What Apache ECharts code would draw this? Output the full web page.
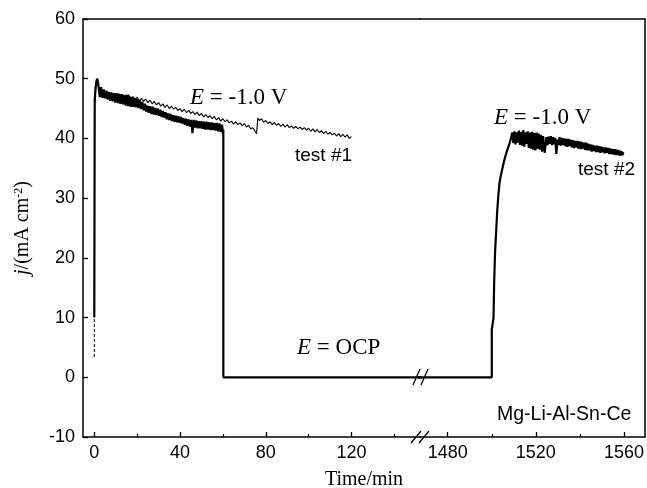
<!DOCTYPE html>
<html><head><meta charset="utf-8">
<script src="https://cdn.jsdelivr.net/npm/echarts@6/dist/echarts.min.js"></script>
<style>html,body{margin:0;padding:0;background:#fff}#c{width:647px;height:488px}</style>
</head><body><div id="c"></div>
<script>
// ---- data ----
const xTicksLeft = [0, 40, 80, 120];
const xMinorLeft = [20, 60, 100, 140];
const xTicksRight = [1480, 1520, 1560];
const xMinorRight = [1500, 1540];
const yRange = [-10, 60];

// test #1 start (dashed)
const test1Start = [[0, 3.4], [0, 10]];
// test #1 (thin trace, 0-120 min at -1.0 V)
const test1 = [[0.3,46.2],[0.7,48.6],[1.2,49.4],[1.8,48.9],[2.5,48.3],[3,47.6],[4,48.0],[5,47.4],[6,47.8],[7,47.2],[8,47.6],[9,47.0],[10,47.4],[11,46.9],[12,47.3],[13,46.8],[14,47.2],[15,46.8],[16,47.3],[17,46.7],[18,47.0],[19,46.5],[20,46.9],[21,46.3],[22,46.7],[23,46.2],[24,46.6],[25,46.0],[26,46.4],[27,45.8],[28,46.2],[29,45.6],[30,46.0],[31,45.4],[32,45.8],[33,45.2],[34,45.6],[35,45.0],[36,45.4],[37,44.9],[38,45.2],[39,44.7],[40,45.0],[41,44.5],[42,44.9],[43,44.3],[44,44.7],[45,44.2],[46,44.5],[47,44.0],[48,44.4],[49,43.8],[50,44.2],[51,43.6],[52,44.0],[53,43.5],[54,43.8],[55,43.3],[56,43.7],[57,43.1],[58,43.5],[59,42.9],[60,43.3],[61,42.8],[62,43.1],[63,42.6],[64,42.9],[65,42.4],[66,42.8],[67,42.3],[68,42.6],[69,42.1],[70,42.5],[71,41.9],[72,42.2],[73,41.6],[74,41.8],[75,41.2],[75.7,40.8],[76.3,43.4],[77,43.0],[78,43.3],[79,42.7],[80,43.0],[81,42.5],[82,42.8],[83,42.3],[84,42.7],[85,42.2],[86,42.5],[87,42.0],[88,42.4],[89,41.9],[90,42.3],[91,41.8],[92,42.1],[93,41.7],[94,42.0],[95,41.6],[96,41.9],[97,41.5],[98,41.8],[99,41.4],[100,41.7],[101,41.2],[102,41.6],[103,41.1],[104,41.5],[105,41.0],[106,41.3],[107,40.8],[108,41.2],[109,40.7],[110,41.0],[111,40.6],[112,40.9],[113,40.4],[114,40.8],[115,40.3],[116,40.7],[117,40.2],[118,40.6],[119,40.0],[120,40.3]];
// test #2, first part (0-60 min at -1.0 V, then OCP)
const test2a = [[0,10],[0.2,46.5],[0.6,48.5],[1.0,49.6],[1.4,50.0],[1.8,49.2],[2.0,49.0],[2.6,46.9],[3.2,48.6],[3.8,46.8],[4.4,48.2],[5.0,46.7],[5.6,48.0],[6.2,46.5],[6.8,47.8],[7.4,46.3],[8.0,47.7],[8.6,46.2],[9.2,47.6],[9.8,46.0],[10.4,47.6],[11.0,45.9],[11.6,47.5],[12.2,45.8],[12.8,47.4],[13.4,45.7],[14.0,47.3],[14.6,45.5],[15.2,47.3],[15.8,45.4],[16.4,47.1],[17.0,45.3],[17.6,46.9],[18.2,45.3],[18.8,46.8],[19.4,45.2],[20.0,46.6],[20.6,45.1],[21.2,46.4],[21.8,44.9],[22.4,46.1],[23.0,44.7],[23.6,45.8],[24.2,44.5],[24.8,45.5],[25.4,44.3],[26.0,45.4],[26.6,44.1],[27.2,45.3],[27.8,44.0],[28.4,45.1],[29.0,43.9],[29.6,45.0],[30.2,43.8],[30.8,44.8],[31.4,43.6],[32.0,44.6],[32.6,43.5],[33.2,44.4],[33.8,43.2],[34.4,44.2],[35.0,43.1],[35.6,44.1],[36.2,42.9],[36.8,43.9],[37.4,42.8],[38.0,43.8],[38.6,42.7],[39.2,43.7],[39.8,42.6],[40.4,43.6],[41.0,42.5],[41.6,43.4],[42.2,42.3],[42.8,43.3],[43.4,42.1],[44.0,43.2],[44.6,42.0],[45.2,43.1],[45.8,40.9],[46.4,43.1],[47.0,41.8],[47.6,43.0],[48.2,41.7],[48.8,42.9],[49.4,41.7],[50.0,42.9],[50.6,41.6],[51.2,42.8],[51.8,41.5],[52.4,42.8],[53.0,41.5],[53.6,42.7],[54.2,41.4],[54.8,42.7],[55.4,41.4],[56.0,42.6],[56.6,41.3],[57.2,42.6],[57.8,41.2],[58.4,42.5],[59.0,41.1],[59.6,42.3],[60.0,40.8],[60.2,41.5],[60.2,0],[160,0]];
// test #2, second part (OCP, then -1.0 V again)
const test2b = [[1460,0],[1500,0],[1500,8.0],[1500.5,8.2],[1500.8,10],[1501.1,16],[1501.5,21],[1502,24.5],[1502.5,28],[1503,30.5],[1503.5,32.5],[1504,33.6],[1504.6,34.6],[1505.2,35.6],[1506,36.8],[1506.8,37.8],[1507.5,38.6],[1508.2,39.3],[1508.8,40.2],[1509.3,41.0],[1509.8,39.2],[1510.3,41.2],[1510.8,39.0],[1511.3,41.0],[1511.8,39.3],[1512.3,41.3],[1512.8,38.9],[1513.3,41.1],[1513.8,38.8],[1514.3,41.4],[1514.8,38.6],[1515.3,41.0],[1515.8,39.1],[1516.3,41.2],[1516.8,38.4],[1517.3,41.0],[1517.8,38.3],[1518.3,41.1],[1518.8,38.1],[1519.3,40.9],[1519.8,38.0],[1520.3,41.0],[1520.8,38.3],[1521.3,40.8],[1521.8,38.1],[1522.3,40.6],[1522.8,37.8],[1523.3,40.4],[1524.0,37.6],[1524.8,40.2],[1525.3,38.9],[1525.8,40.3],[1526.3,39.1],[1526.8,40.4],[1527.3,38.9],[1527.8,40.2],[1528.3,39.0],[1528.8,40.1],[1529.3,37.4],[1529.8,39.8],[1530.3,38.9],[1530.8,40.2],[1531.3,38.8],[1531.8,40.1],[1532.3,38.9],[1532.8,40.0],[1533.3,38.7],[1533.8,39.9],[1534.3,38.6],[1534.8,39.9],[1535.3,38.7],[1535.8,39.8],[1536.3,38.5],[1536.8,39.7],[1537.3,38.4],[1537.8,39.6],[1538.3,38.5],[1538.8,39.6],[1539.3,38.3],[1539.8,39.5],[1540.3,38.2],[1540.8,39.4],[1541.3,38.3],[1541.8,39.3],[1542.3,38.1],[1542.8,39.3],[1543.3,38.0],[1543.8,39.1],[1544.3,38.0],[1544.8,39.0],[1545.3,37.8],[1545.8,38.9],[1546.3,37.9],[1546.8,38.8],[1547.3,37.7],[1547.8,38.8],[1548.3,37.7],[1548.8,38.7],[1549.3,37.6],[1549.8,38.6],[1550.3,37.7],[1550.8,38.5],[1551.3,37.5],[1551.8,38.5],[1552.3,37.6],[1552.8,38.4],[1553.3,37.4],[1553.8,38.3],[1554.3,37.4],[1554.8,38.2],[1555.3,37.3],[1555.8,38.2],[1556.3,37.2],[1556.8,38.1],[1557.3,37.2],[1557.8,38.0],[1558.3,37.1],[1558.8,37.9],[1559.3,37.2],[1559.7,37.7]];

// ---- chart ----
const SANS = 'Liberation Sans, Arial, sans-serif';
const SERIF = 'Liberation Serif, Times New Roman, serif';
const BLACK = '#000';
const leftRange = [-5.27, 151.96];
const rightRange = [1467.43, 1569.53];

function majorX(grid, range, ticks) {
  return {
    type: 'value', gridIndex: grid, min: range[0], max: range[1], position: 'bottom',
    axisLine: { show: true, onZero: false, lineStyle: { color: BLACK, width: 1.5 } },
    axisTick: { show: true, inside: true, length: 5, customValues: ticks, lineStyle: { color: BLACK, width: 1.3 } },
    axisLabel: { show: true, customValues: ticks, color: BLACK, fontSize: 18, fontFamily: SANS, margin: 7,
                 formatter: function (v) { return String(v); } },
    splitLine: { show: false }
  };
}
function minorX(grid, range, ticks) {
  return {
    type: 'value', gridIndex: grid, min: range[0], max: range[1], position: 'bottom',
    axisLine: { show: false, onZero: false },
    axisTick: { show: true, inside: true, length: 3, customValues: ticks, lineStyle: { color: BLACK, width: 1.2 } },
    axisLabel: { show: false }, splitLine: { show: false }
  };
}
function topX(grid, range) {
  return {
    type: 'value', gridIndex: grid, min: range[0], max: range[1], position: 'top',
    axisLine: { show: true, onZero: false, lineStyle: { color: BLACK, width: 1.5 } },
    axisTick: { show: false }, axisLabel: { show: false }, splitLine: { show: false }
  };
}

const chart = echarts.init(document.getElementById('c'), null, { renderer: 'canvas' });
const option = {
  animation: false,
  backgroundColor: '#fff',
  grid: [
    { left: 83, top: 19, width: 337, height: 418 },
    { left: 420, top: 19, width: 225, height: 418 }
  ],
  xAxis: [
    majorX(0, leftRange, xTicksLeft), minorX(0, leftRange, xMinorLeft), topX(0, leftRange),
    majorX(1, rightRange, xTicksRight), minorX(1, rightRange, xMinorRight), topX(1, rightRange)
  ],
  yAxis: [
    {
      type: 'value', gridIndex: 0, min: yRange[0], max: yRange[1], interval: 10, position: 'left',
      axisLine: { show: true, onZero: false, lineStyle: { color: BLACK, width: 1.5 } },
      axisTick: { show: true, inside: true, length: 5, lineStyle: { color: BLACK, width: 1.3 } },
      axisLabel: { color: BLACK, fontSize: 18, fontFamily: SANS, margin: 8 },
      splitLine: { show: false },
      name: '{i|j}/(mA cm{sup|-2})',
      nameLocation: 'middle', nameGap: 50, nameRotate: 90,
      nameTextStyle: {
        color: BLACK, fontFamily: SERIF, fontSize: 20,
        rich: {
          i: { fontStyle: 'italic', fontFamily: SERIF, fontSize: 20, color: BLACK },
          sup: { fontFamily: SERIF, fontSize: 12, color: BLACK, verticalAlign: 'top', lineHeight: 12 }
        }
      }
    },
    {
      type: 'value', gridIndex: 1, min: yRange[0], max: yRange[1], interval: 10, position: 'right',
      axisLine: { show: true, onZero: false, lineStyle: { color: BLACK, width: 1.5 } },
      axisTick: { show: false }, axisLabel: { show: false }, splitLine: { show: false }
    }
  ],
  series: [
    { name: 'test1Start', type: 'line', xAxisIndex: 0, yAxisIndex: 0, data: test1Start, showSymbol: false, symbol: 'none',
      lineStyle: { color: BLACK, width: 1, type: [3, 2] } },
    { name: 'test #1', type: 'line', xAxisIndex: 0, yAxisIndex: 0, data: test1, symbol: 'none',
      lineStyle: { color: BLACK, width: 1.1 } },
    { name: 'test #2a', type: 'line', xAxisIndex: 0, yAxisIndex: 0, data: test2a, symbol: 'none',
      lineStyle: { color: BLACK, width: 2.2 } },
    { name: 'test #2b', type: 'line', xAxisIndex: 3, yAxisIndex: 1, data: test2b, symbol: 'none',
      lineStyle: { color: BLACK, width: 2.2 } }
  ],
  graphic: [
    { type: 'text', x: 190, y: 98, style: { text: '{i|E} = -1.0 V', fontFamily: SERIF, fontSize: 23, fill: BLACK, verticalAlign: 'middle',
        rich: { i: { fontStyle: 'italic', fontFamily: SERIF, fontSize: 23, fill: BLACK } } } },
    { type: 'text', x: 494, y: 118, style: { text: '{i|E} = -1.0 V', fontFamily: SERIF, fontSize: 23, fill: BLACK, verticalAlign: 'middle',
        rich: { i: { fontStyle: 'italic', fontFamily: SERIF, fontSize: 23, fill: BLACK } } } },
    { type: 'text', x: 297, y: 348, style: { text: '{i|E} = OCP', fontFamily: SERIF, fontSize: 23, fill: BLACK, verticalAlign: 'middle',
        rich: { i: { fontStyle: 'italic', fontFamily: SERIF, fontSize: 23, fill: BLACK } } } },
    { type: 'text', x: 295, y: 156, style: { text: 'test #1', fontFamily: SANS, fontSize: 19, fill: BLACK, verticalAlign: 'middle' } },
    { type: 'text', x: 578, y: 170, style: { text: 'test #2', fontFamily: SANS, fontSize: 19, fill: BLACK, verticalAlign: 'middle' } },
    { type: 'text', x: 497, y: 415, style: { text: 'Mg-Li-Al-Sn-Ce', fontFamily: SANS, fontSize: 19.5, fill: BLACK, verticalAlign: 'middle' } },
    { type: 'text', x: 364, y: 480, style: { text: 'Time/min', fontFamily: SERIF, fontSize: 20, fill: BLACK, align: 'center', verticalAlign: 'middle' } },
    // axis break marks
    { type: 'line', shape: { x1: 411, y1: 443, x2: 421, y2: 431 }, style: { stroke: BLACK, lineWidth: 1.3 } },
    { type: 'line', shape: { x1: 419, y1: 443, x2: 429, y2: 431 }, style: { stroke: BLACK, lineWidth: 1.3 } },
    { type: 'line', shape: { x1: 413, y1: 385, x2: 420, y2: 369 }, style: { stroke: BLACK, lineWidth: 1.3 } },
    { type: 'line', shape: { x1: 421, y1: 385, x2: 428, y2: 369 }, style: { stroke: BLACK, lineWidth: 1.3 } }
  ]
};
chart.setOption(option);
</script>
</body></html>
